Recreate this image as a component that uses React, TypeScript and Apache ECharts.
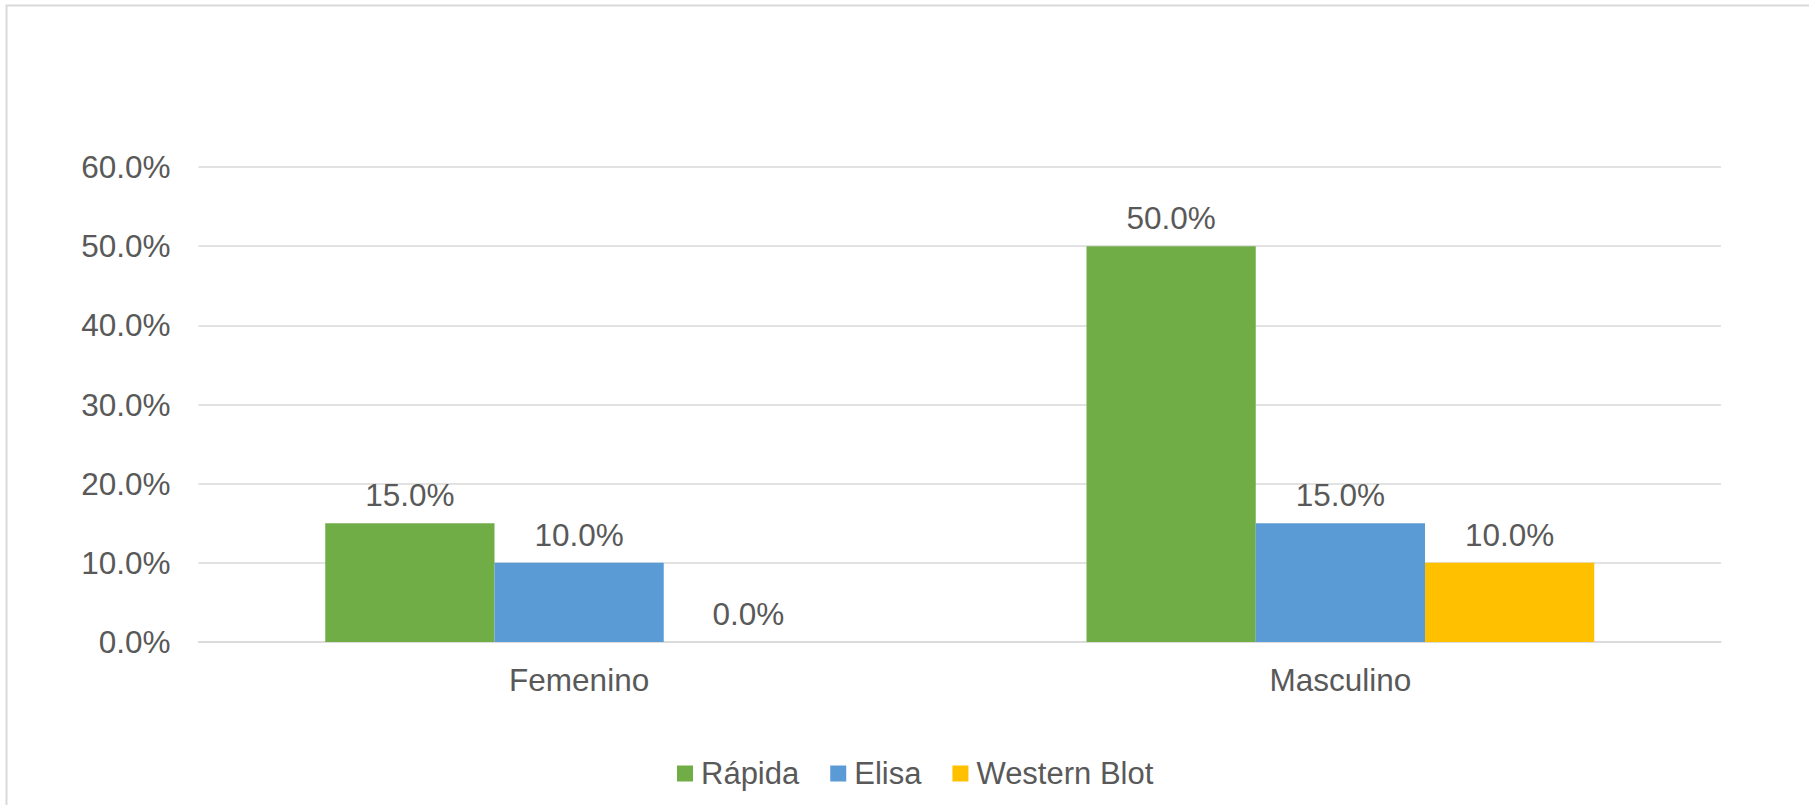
import React, { useEffect, useRef } from "react";
import * as echarts from "echarts";

const categories = ["Femenino", "Masculino"];
const seriesNames = ["Rápida", "Elisa", "Western Blot"];
const rapida = [0.15, 0.5];
const elisa = [0.1, 0.15];
const westernBlot = [0.0, 0.1];
const yTicks = { min: 0, max: 0.6, interval: 0.1 };

const colors = ["#70AD47", "#5B9BD5", "#FFC000"];
const FONT = "'Liberation Sans', Arial, sans-serif";
const TEXT = "#595959";
const GRID_LINE = "#D9D9D9";

const pct = (v: number) => (v * 100).toFixed(1) + "%";

export default function App() {
  const ref = useRef<HTMLDivElement>(null);

  useEffect(() => {
    if (!ref.current) return;
    const chart = echarts.init(ref.current, undefined, { renderer: "svg" });
    const values = [rapida, elisa, westernBlot];

    chart.setOption({
      animation: false,
      backgroundColor: "#ffffff",
      textStyle: { fontFamily: FONT },
      graphic: [
        {
          type: "rect",
          shape: { x: 6.5, y: 5.5, width: 1830, height: 830 },
          style: { fill: "none", stroke: GRID_LINE, lineWidth: 2 },
          silent: true,
        },
      ],
      grid: { left: 198.5, right: 88, top: 167, bottom: 163 },
      legend: {
        left: 672,
        top: 753,
        itemWidth: 16,
        itemHeight: 16,
        itemGap: 31,
        icon: "rect",
        textStyle: { color: TEXT, fontSize: 31, fontFamily: FONT, padding: [0, 0, 0, 3] },
        data: seriesNames,
      },
      xAxis: {
        type: "category",
        data: categories,
        axisLine: { lineStyle: { color: GRID_LINE, width: 1.5 } },
        axisTick: { show: false },
        axisLabel: { color: TEXT, fontSize: 31.5, fontFamily: FONT, margin: 22 },
      },
      yAxis: {
        type: "value",
        min: yTicks.min,
        max: yTicks.max,
        interval: yTicks.interval,
        axisLine: { show: false },
        axisTick: { show: false },
        splitLine: { lineStyle: { color: GRID_LINE, width: 1.5 } },
        axisLabel: {
          color: TEXT,
          fontSize: 31.5,
          fontFamily: FONT,
          margin: 28,
          formatter: (v: number) => pct(v),
        },
      },
      series: seriesNames.map((name, i) => ({
        name,
        type: "bar",
        data: values[i],
        barGap: "0%",
        barCategoryGap: "33.3%",
        itemStyle: { color: colors[i] },
        label: {
          show: true,
          position: "top",
          distance: 12,
          color: TEXT,
          fontSize: 31.5,
          fontFamily: FONT,
          formatter: (p: any) => pct(p.value),
        },
      })),
    });

    return () => chart.dispose();
  }, []);

  return (
    <div
      ref={ref}
      style={{ position: "absolute", left: 0, top: 0, width: 1809, height: 805 }}
    />
  );
}
